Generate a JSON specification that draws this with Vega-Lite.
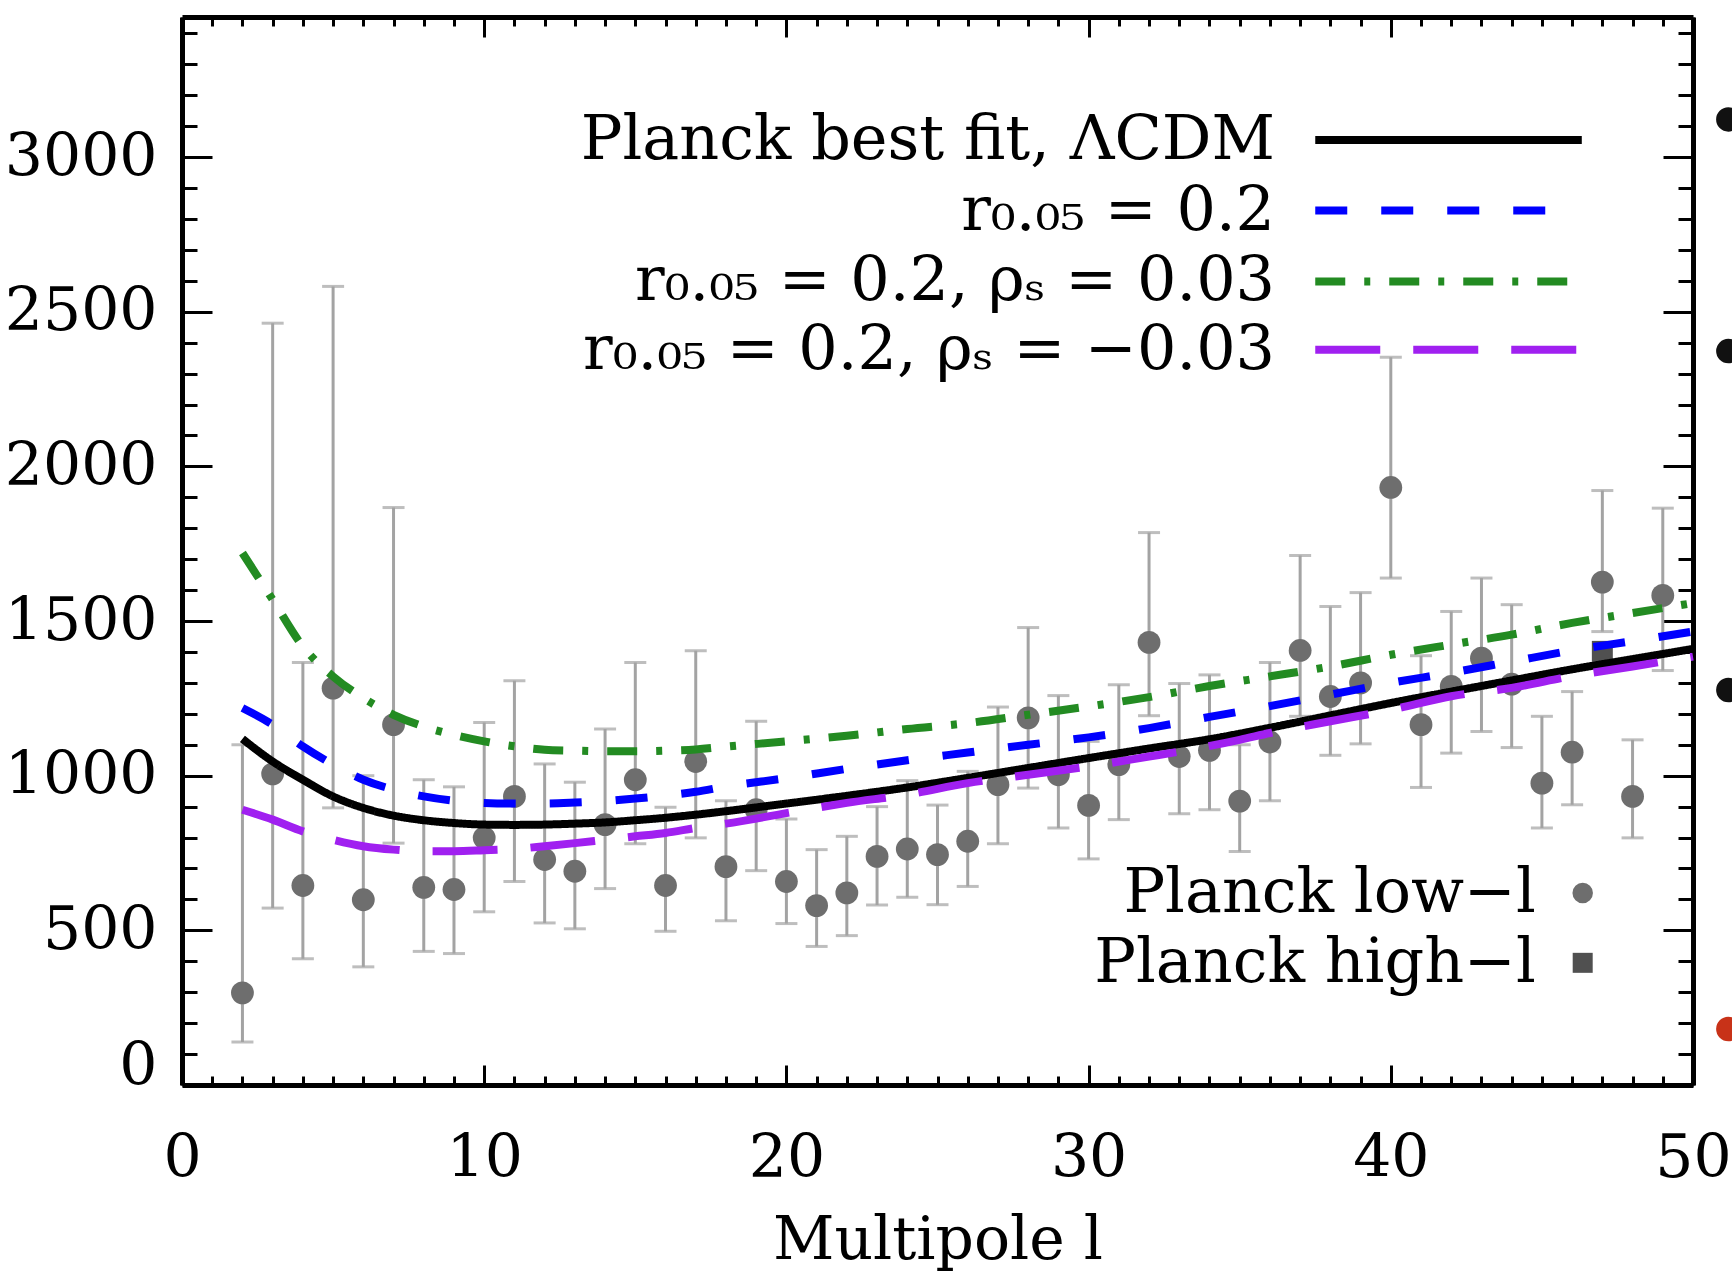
{
  "$schema": "https://vega.github.io/schema/vega-lite/v6.json",
  "width": 1511,
  "height": 1068,
  "autosize": {"type": "none"},
  "padding": {"left": 182, "top": 17, "right": 39, "bottom": 191},
  "background": "white",
  "config": {
    "view": {"stroke": null},
    "font": "DejaVu Serif",
    "axis": {
      "grid": false,
      "domainColor": "black",
      "domainWidth": 5,
      "tickColor": "black",
      "tickWidth": 3,
      "labelFont": "DejaVu Serif",
      "labelFontSize": 60,
      "labelColor": "black",
      "labelOverlap": false,
      "titleFont": "DejaVu Serif",
      "titleFontSize": 60,
      "titleFontWeight": "normal",
      "titleColor": "black"
    }
  },
  "datasets": {
    "pts": [
      {"l": 2, "v": 298, "lo": 139, "hi": 1100},
      {"l": 3, "v": 1006, "lo": 572, "hi": 2463},
      {"l": 4, "v": 645, "lo": 408, "hi": 1366},
      {"l": 5, "v": 1283, "lo": 896, "hi": 2582},
      {"l": 6, "v": 599, "lo": 382, "hi": 1000},
      {"l": 7, "v": 1165, "lo": 782, "hi": 1867},
      {"l": 8, "v": 639, "lo": 432, "hi": 987},
      {"l": 9, "v": 632, "lo": 425, "hi": 964},
      {"l": 10, "v": 799, "lo": 560, "hi": 1172},
      {"l": 11, "v": 933, "lo": 658, "hi": 1307},
      {"l": 12, "v": 729, "lo": 524, "hi": 1038},
      {"l": 13, "v": 691, "lo": 505, "hi": 979},
      {"l": 14, "v": 842, "lo": 635, "hi": 1151},
      {"l": 15, "v": 987, "lo": 780, "hi": 1366},
      {"l": 16, "v": 645, "lo": 497, "hi": 898},
      {"l": 17, "v": 1046, "lo": 799, "hi": 1404},
      {"l": 18, "v": 706, "lo": 531, "hi": 919},
      {"l": 19, "v": 890, "lo": 693, "hi": 1176},
      {"l": 20, "v": 658, "lo": 522, "hi": 860},
      {"l": 21, "v": 580, "lo": 448, "hi": 761},
      {"l": 22, "v": 621, "lo": 483, "hi": 804},
      {"l": 23, "v": 739, "lo": 582, "hi": 900},
      {"l": 24, "v": 763, "lo": 607, "hi": 984},
      {"l": 25, "v": 745, "lo": 583, "hi": 905},
      {"l": 26, "v": 788, "lo": 642, "hi": 1014},
      {"l": 27, "v": 971, "lo": 780, "hi": 1222},
      {"l": 28, "v": 1187, "lo": 960, "hi": 1479},
      {"l": 29, "v": 1003, "lo": 831, "hi": 1259},
      {"l": 30, "v": 904, "lo": 731, "hi": 1111},
      {"l": 31, "v": 1036, "lo": 858, "hi": 1294},
      {"l": 32, "v": 1431, "lo": 1194, "hi": 1786},
      {"l": 33, "v": 1062, "lo": 877, "hi": 1298},
      {"l": 34, "v": 1082, "lo": 890, "hi": 1326},
      {"l": 35, "v": 918, "lo": 755, "hi": 1100},
      {"l": 36, "v": 1109, "lo": 919, "hi": 1366},
      {"l": 37, "v": 1405, "lo": 1192, "hi": 1712},
      {"l": 38, "v": 1256, "lo": 1066, "hi": 1547},
      {"l": 39, "v": 1300, "lo": 1103, "hi": 1592},
      {"l": 40, "v": 1932, "lo": 1639, "hi": 2353},
      {"l": 41, "v": 1165, "lo": 962, "hi": 1388},
      {"l": 42, "v": 1289, "lo": 1073, "hi": 1531},
      {"l": 43, "v": 1380, "lo": 1143, "hi": 1639},
      {"l": 44, "v": 1296, "lo": 1091, "hi": 1553},
      {"l": 45, "v": 976, "lo": 831, "hi": 1192},
      {"l": 46, "v": 1076, "lo": 906, "hi": 1272},
      {"l": 47, "v": 1626, "lo": 1466, "hi": 1922},
      {"l": 48, "v": 933, "lo": 799, "hi": 1116},
      {"l": 49, "v": 1583, "lo": 1340, "hi": 1865}
    ],
    "high": [{"l": 47, "v": 1402}],
    "curves": [
      {"model": "lcdm", "l": 2, "v": 1119}, {"model": "lcdm", "l": 3, "v": 1046}, {"model": "lcdm", "l": 4, "v": 987},
      {"model": "lcdm", "l": 5, "v": 933}, {"model": "lcdm", "l": 6, "v": 896}, {"model": "lcdm", "l": 7, "v": 871},
      {"model": "lcdm", "l": 8, "v": 856}, {"model": "lcdm", "l": 9, "v": 847}, {"model": "lcdm", "l": 10, "v": 842},
      {"model": "lcdm", "l": 11, "v": 841}, {"model": "lcdm", "l": 12, "v": 842}, {"model": "lcdm", "l": 13, "v": 845},
      {"model": "lcdm", "l": 14, "v": 849}, {"model": "lcdm", "l": 15, "v": 856}, {"model": "lcdm", "l": 16, "v": 864},
      {"model": "lcdm", "l": 17, "v": 874}, {"model": "lcdm", "l": 20, "v": 910}, {"model": "lcdm", "l": 22, "v": 935},
      {"model": "lcdm", "l": 24, "v": 962}, {"model": "lcdm", "l": 26, "v": 993}, {"model": "lcdm", "l": 28, "v": 1025},
      {"model": "lcdm", "l": 30, "v": 1057}, {"model": "lcdm", "l": 32, "v": 1088}, {"model": "lcdm", "l": 34, "v": 1118},
      {"model": "lcdm", "l": 36, "v": 1155}, {"model": "lcdm", "l": 38, "v": 1195}, {"model": "lcdm", "l": 40, "v": 1235},
      {"model": "lcdm", "l": 42, "v": 1272}, {"model": "lcdm", "l": 44, "v": 1308}, {"model": "lcdm", "l": 46, "v": 1344},
      {"model": "lcdm", "l": 48, "v": 1377}, {"model": "lcdm", "l": 50, "v": 1410},
      {"model": "r02", "l": 2, "v": 1219}, {"model": "r02", "l": 3, "v": 1165}, {"model": "r02", "l": 4, "v": 1095},
      {"model": "r02", "l": 5, "v": 1036}, {"model": "r02", "l": 6, "v": 987}, {"model": "r02", "l": 7, "v": 955},
      {"model": "r02", "l": 8, "v": 933}, {"model": "r02", "l": 9, "v": 919}, {"model": "r02", "l": 10, "v": 912},
      {"model": "r02", "l": 11, "v": 910}, {"model": "r02", "l": 12, "v": 910}, {"model": "r02", "l": 13, "v": 913},
      {"model": "r02", "l": 14, "v": 918}, {"model": "r02", "l": 15, "v": 926}, {"model": "r02", "l": 16, "v": 936},
      {"model": "r02", "l": 17, "v": 948}, {"model": "r02", "l": 18, "v": 965}, {"model": "r02", "l": 20, "v": 992},
      {"model": "r02", "l": 22, "v": 1022}, {"model": "r02", "l": 24, "v": 1050}, {"model": "r02", "l": 26, "v": 1075},
      {"model": "r02", "l": 28, "v": 1100}, {"model": "r02", "l": 30, "v": 1124}, {"model": "r02", "l": 32, "v": 1154},
      {"model": "r02", "l": 34, "v": 1190}, {"model": "r02", "l": 36, "v": 1225}, {"model": "r02", "l": 38, "v": 1262},
      {"model": "r02", "l": 40, "v": 1300}, {"model": "r02", "l": 42, "v": 1333}, {"model": "r02", "l": 44, "v": 1369},
      {"model": "r02", "l": 46, "v": 1405}, {"model": "r02", "l": 48, "v": 1435}, {"model": "r02", "l": 50, "v": 1466},
      {"model": "rp", "l": 2, "v": 1720}, {"model": "rp", "l": 3, "v": 1569}, {"model": "rp", "l": 4, "v": 1418},
      {"model": "rp", "l": 5, "v": 1321}, {"model": "rp", "l": 6, "v": 1251}, {"model": "rp", "l": 7, "v": 1197},
      {"model": "rp", "l": 8, "v": 1159}, {"model": "rp", "l": 9, "v": 1132}, {"model": "rp", "l": 10, "v": 1111},
      {"model": "rp", "l": 11, "v": 1095}, {"model": "rp", "l": 12, "v": 1084}, {"model": "rp", "l": 13, "v": 1081},
      {"model": "rp", "l": 14, "v": 1079}, {"model": "rp", "l": 15, "v": 1079}, {"model": "rp", "l": 16, "v": 1081},
      {"model": "rp", "l": 17, "v": 1085}, {"model": "rp", "l": 18, "v": 1094}, {"model": "rp", "l": 20, "v": 1111},
      {"model": "rp", "l": 22, "v": 1129}, {"model": "rp", "l": 24, "v": 1151}, {"model": "rp", "l": 26, "v": 1170},
      {"model": "rp", "l": 28, "v": 1197}, {"model": "rp", "l": 30, "v": 1224}, {"model": "rp", "l": 32, "v": 1254},
      {"model": "rp", "l": 34, "v": 1290}, {"model": "rp", "l": 36, "v": 1321}, {"model": "rp", "l": 38, "v": 1353},
      {"model": "rp", "l": 40, "v": 1391}, {"model": "rp", "l": 42, "v": 1424}, {"model": "rp", "l": 44, "v": 1456},
      {"model": "rp", "l": 46, "v": 1494}, {"model": "rp", "l": 48, "v": 1526}, {"model": "rp", "l": 50, "v": 1558},
      {"model": "rm", "l": 2, "v": 890}, {"model": "rm", "l": 3, "v": 858}, {"model": "rm", "l": 4, "v": 820},
      {"model": "rm", "l": 5, "v": 793}, {"model": "rm", "l": 6, "v": 772}, {"model": "rm", "l": 7, "v": 761},
      {"model": "rm", "l": 8, "v": 756}, {"model": "rm", "l": 9, "v": 756}, {"model": "rm", "l": 10, "v": 759},
      {"model": "rm", "l": 11, "v": 763}, {"model": "rm", "l": 12, "v": 772}, {"model": "rm", "l": 13, "v": 782},
      {"model": "rm", "l": 14, "v": 793}, {"model": "rm", "l": 15, "v": 804}, {"model": "rm", "l": 16, "v": 815},
      {"model": "rm", "l": 17, "v": 831}, {"model": "rm", "l": 18, "v": 845}, {"model": "rm", "l": 20, "v": 879},
      {"model": "rm", "l": 22, "v": 912}, {"model": "rm", "l": 24, "v": 939}, {"model": "rm", "l": 26, "v": 976},
      {"model": "rm", "l": 28, "v": 1003}, {"model": "rm", "l": 30, "v": 1030}, {"model": "rm", "l": 32, "v": 1062},
      {"model": "rm", "l": 33, "v": 1078}, {"model": "rm", "l": 35, "v": 1116}, {"model": "rm", "l": 36, "v": 1138},
      {"model": "rm", "l": 38, "v": 1176}, {"model": "rm", "l": 40, "v": 1213}, {"model": "rm", "l": 42, "v": 1257},
      {"model": "rm", "l": 44, "v": 1284}, {"model": "rm", "l": 46, "v": 1322}, {"model": "rm", "l": 48, "v": 1353},
      {"model": "rm", "l": 50, "v": 1385}
    ]
  },
  "layer": [
    {
      "data": {"name": "pts"},
      "mark": {"type": "rule", "color": "#a3a3a3", "strokeWidth": 3},
      "encoding": {
        "x": {
          "field": "l", "type": "quantitative",
          "scale": {"domain": [0, 50], "nice": false, "zero": false},
          "axis": {
            "orient": "bottom", "tickCount": 50, "format": "d",
            "labelExpr": "datum.value % 10 === 0 ? datum.label : ''",
            "tickSize": {"condition": {"test": "datum.value % 10 === 0", "value": -20}, "value": -9},
            "labelPadding": 64, "labelFlush": false,
            "title": "Multipole l", "titlePadding": 12
          }
        },
        "y": {
          "field": "lo", "type": "quantitative",
          "scale": {"domain": [0, 3453], "nice": false, "zero": false},
          "axis": {
            "orient": "left", "tickCount": 35, "format": "d",
            "labelExpr": "datum.value % 500 === 0 ? datum.label : ''",
            "tickSize": {"condition": {"test": "datum.value % 500 === 0", "value": -30}, "value": -15},
            "labelOffset": {"condition": {"test": "datum.value === 0", "value": -19}, "value": 0},
            "labelPadding": 55, "labelFlush": false, "title": null
          }
        },
        "y2": {"field": "hi"}
      }
    },
    {
      "data": {"name": "pts"},
      "mark": {"type": "tick", "orient": "horizontal", "color": "#a3a3a3", "size": 22, "thickness": 3},
      "encoding": {
        "x": {"field": "l", "type": "quantitative", "axis": null},
        "y": {"field": "lo", "type": "quantitative", "axis": null}
      }
    },
    {
      "data": {"name": "pts"},
      "mark": {"type": "tick", "orient": "horizontal", "color": "#a3a3a3", "size": 22, "thickness": 3},
      "encoding": {
        "x": {"field": "l", "type": "quantitative", "axis": null},
        "y": {"field": "hi", "type": "quantitative", "axis": null}
      }
    },
    {
      "data": {"name": "pts"},
      "mark": {"type": "point", "shape": "circle", "filled": true, "size": 520, "color": "#6e6e6e", "opacity": 1},
      "encoding": {
        "x": {
          "field": "l", "type": "quantitative",
          "axis": {
            "orient": "top", "tickCount": 50, "labels": false, "title": null,
            "tickSize": {"condition": {"test": "datum.value % 10 === 0", "value": -20}, "value": -9}
          }
        },
        "y": {
          "field": "v", "type": "quantitative",
          "axis": {
            "orient": "right", "tickCount": 35, "labels": false, "title": null,
            "tickSize": {"condition": {"test": "datum.value % 500 === 0", "value": -30}, "value": -15}
          }
        }
      }
    },
    {
      "data": {"name": "high"},
      "mark": {"type": "square", "filled": true, "size": 440, "color": "#505050", "opacity": 1},
      "encoding": {
        "x": {"field": "l", "type": "quantitative", "axis": null},
        "y": {"field": "v", "type": "quantitative", "axis": null}
      }
    },
    {
      "data": {"name": "curves"},
      "mark": {"type": "line", "strokeWidth": 8, "interpolate": "monotone"},
      "encoding": {
        "x": {"field": "l", "type": "quantitative", "axis": null},
        "y": {"field": "v", "type": "quantitative", "axis": null},
        "color": {
          "field": "model", "type": "nominal", "legend": null,
          "scale": {"domain": ["lcdm", "r02", "rp", "rm"], "range": ["#000000", "#0000ff", "#238b22", "#a020f0"]}
        },
        "strokeDash": {
          "field": "model", "type": "nominal", "legend": null,
          "scale": {"domain": ["lcdm", "r02", "rp", "rm"], "range": [[1, 0], [32, 34], [30, 19, 6, 19], [65, 33]]}
        }
      }
    },
    {
      "data": {"values": [{}]},
      "mark": {"type": "rule", "color": "#000000", "strokeWidth": 8},
      "encoding": {
        "x": {"datum": 37.5, "type": "quantitative", "axis": null},
        "x2": {"datum": 46.32},
        "y": {"datum": 3055, "type": "quantitative", "axis": null}
      }
    },
    {
      "data": {"values": [{}]},
      "mark": {"type": "rule", "color": "#0000ff", "strokeWidth": 8, "strokeDash": [32, 34]},
      "encoding": {
        "x": {"datum": 37.5, "type": "quantitative", "axis": null},
        "x2": {"datum": 45.16},
        "y": {"datum": 2827, "type": "quantitative", "axis": null}
      }
    },
    {
      "data": {"values": [{}]},
      "mark": {"type": "rule", "color": "#238b22", "strokeWidth": 8, "strokeDash": [30, 19, 6, 19]},
      "encoding": {
        "x": {"datum": 37.5, "type": "quantitative", "axis": null},
        "x2": {"datum": 46.02},
        "y": {"datum": 2598, "type": "quantitative", "axis": null}
      }
    },
    {
      "data": {"values": [{}]},
      "mark": {"type": "rule", "color": "#a020f0", "strokeWidth": 8, "strokeDash": [65, 33]},
      "encoding": {
        "x": {"datum": 37.5, "type": "quantitative", "axis": null},
        "x2": {"datum": 46.32},
        "y": {"datum": 2377, "type": "quantitative", "axis": null}
      }
    },
    {
      "data": {"values": [{}]},
      "mark": {"type": "text", "align": "right", "baseline": "middle", "fontSize": 62, "font": "DejaVu Serif", "color": "black", "text": "Planck best fit, ΛCDM"},
      "encoding": {
        "x": {"datum": 36.17, "type": "quantitative", "axis": null},
        "y": {"datum": 3055, "type": "quantitative", "axis": null}
      }
    },
    {
      "data": {"values": [{}]},
      "mark": {"type": "text", "align": "right", "baseline": "middle", "fontSize": 62, "font": "DejaVu Serif", "color": "black", "text": "r₀.₀₅ = 0.2"},
      "encoding": {
        "x": {"datum": 36.17, "type": "quantitative", "axis": null},
        "y": {"datum": 2827, "type": "quantitative", "axis": null}
      }
    },
    {
      "data": {"values": [{}]},
      "mark": {"type": "text", "align": "right", "baseline": "middle", "fontSize": 62, "font": "DejaVu Serif", "color": "black", "text": "r₀.₀₅ = 0.2, ρₛ = 0.03"},
      "encoding": {
        "x": {"datum": 36.17, "type": "quantitative", "axis": null},
        "y": {"datum": 2598, "type": "quantitative", "axis": null}
      }
    },
    {
      "data": {"values": [{}]},
      "mark": {"type": "text", "align": "right", "baseline": "middle", "fontSize": 62, "font": "DejaVu Serif", "color": "black", "text": "r₀.₀₅ = 0.2, ρₛ = −0.03"},
      "encoding": {
        "x": {"datum": 36.17, "type": "quantitative", "axis": null},
        "y": {"datum": 2377, "type": "quantitative", "axis": null}
      }
    },
    {
      "data": {"values": [{}]},
      "mark": {"type": "text", "align": "right", "baseline": "middle", "fontSize": 62, "font": "DejaVu Serif", "color": "black", "text": "Planck low−l"},
      "encoding": {
        "x": {"datum": 44.8, "type": "quantitative", "axis": null},
        "y": {"datum": 621, "type": "quantitative", "axis": null}
      }
    },
    {
      "data": {"values": [{}]},
      "mark": {"type": "text", "align": "right", "baseline": "middle", "fontSize": 62, "font": "DejaVu Serif", "color": "black", "text": "Planck high−l"},
      "encoding": {
        "x": {"datum": 44.8, "type": "quantitative", "axis": null},
        "y": {"datum": 395, "type": "quantitative", "axis": null}
      }
    },
    {
      "data": {"values": [{}]},
      "mark": {"type": "point", "shape": "circle", "filled": true, "size": 420, "color": "#6e6e6e", "opacity": 1},
      "encoding": {
        "x": {"datum": 46.35, "type": "quantitative", "axis": null},
        "y": {"datum": 621, "type": "quantitative", "axis": null}
      }
    },
    {
      "data": {"values": [{}]},
      "mark": {"type": "square", "filled": true, "size": 400, "color": "#505050", "opacity": 1},
      "encoding": {
        "x": {"datum": 46.35, "type": "quantitative", "axis": null},
        "y": {"datum": 395, "type": "quantitative", "axis": null}
      }
    },
    {
      "data": {"values": [{"v": 3122}, {"v": 2373}, {"v": 1277}]},
      "mark": {"type": "point", "shape": "circle", "filled": true, "size": 600, "color": "#111111", "opacity": 1},
      "encoding": {
        "x": {"datum": 51.17, "type": "quantitative", "axis": null},
        "y": {"field": "v", "type": "quantitative", "axis": null}
      }
    },
    {
      "data": {"values": [{"v": 181}]},
      "mark": {"type": "point", "shape": "circle", "filled": true, "size": 600, "color": "#c83218", "opacity": 1},
      "encoding": {
        "x": {"datum": 51.17, "type": "quantitative", "axis": null},
        "y": {"field": "v", "type": "quantitative", "axis": null}
      }
    }
  ],
  "resolve": {"axis": {"x": "independent", "y": "independent"}}
}
